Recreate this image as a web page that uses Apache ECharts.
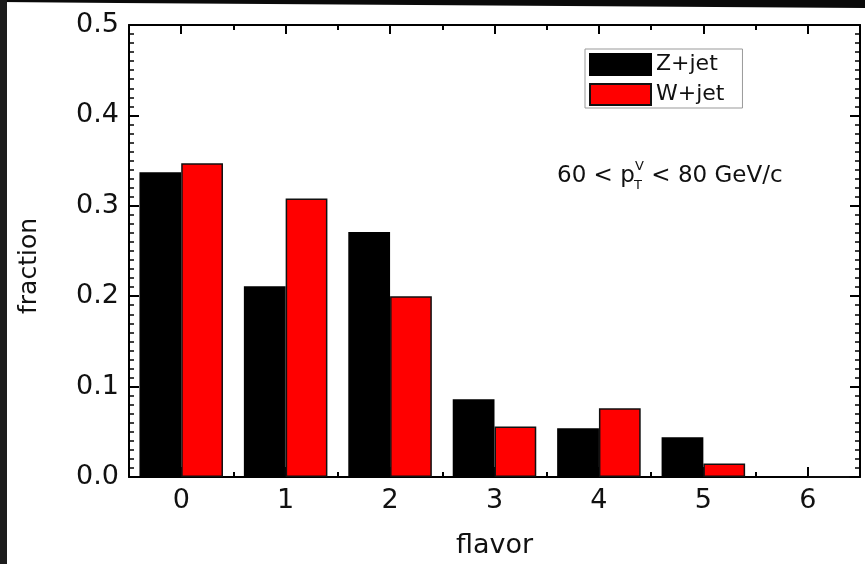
<!DOCTYPE html>
<html><head><meta charset="utf-8">
<script src="https://cdn.jsdelivr.net/npm/echarts@6/dist/echarts.min.js"></script>
<style>html,body{margin:0;padding:0;background:#fff}#c{width:865px;height:564px}</style>
</head><body><div id="c"></div>
<script>
const flavors = ['0', '1', '2', '3', '4', '5', '6'];
const zJet = [0.337, 0.211, 0.271, 0.086, 0.054, 0.044, 0];
const wJet = [0.347, 0.308, 0.200, 0.056, 0.076, 0.015, 0];
const seriesNames = ['Z+jet', 'W+jet'];
const yMin = 0, yMax = 0.5, yStep = 0.1;

const FONT = 'DejaVu Sans';
const AX = { color: '#000', width: 2 };

function catAxis(pos, major, showLine, showLabel) {
  return {
    type: 'category', data: flavors, position: pos, boundaryGap: true,
    axisLine: { show: showLine, onZero: false, lineStyle: AX },
    axisTick: { show: true, inside: true, alignWithLabel: major, length: major ? (pos === 'top' ? 9 : 10) : 5,
                lineStyle: { color: '#000', width: 2 } },
    axisLabel: { show: showLabel, fontFamily: FONT, fontSize: 27, color: '#111', margin: 10 },
    splitLine: { show: false }
  };
}
function valAxis(pos, showLabel) {
  return {
    type: 'value', position: pos, min: yMin, max: yMax, interval: yStep,
    axisLine: { show: true, onZero: false, lineStyle: AX },
    axisTick: { show: true, inside: true, length: 10, lineStyle: { color: '#000', width: 2 } },
    minorTick: { show: true, splitNumber: 10, length: 5, lineStyle: { color: '#000', width: 1.5 } },
    axisLabel: { show: showLabel, fontFamily: FONT, fontSize: 27, color: '#111', margin: 10,
                 formatter: v => v.toFixed(1) },
    splitLine: { show: false }, minorSplitLine: { show: false }
  };
}

const xAxes = [
  Object.assign(catAxis('bottom', true, true, true), {
    name: 'flavor', nameLocation: 'middle', nameGap: 55,
    nameTextStyle: { fontFamily: FONT, fontSize: 27, color: '#111' }
  }),
  catAxis('bottom', false, false, false),
  catAxis('top', true, true, false),
  catAxis('top', false, false, false)
];
const yAxes = [valAxis('left', true), valAxis('right', false)];

const T = (text, x, y, size) => ({ type: 'text', x: x, y: y,
  style: { text: text, font: size + 'px "DejaVu Sans"', fill: '#111', verticalAlign: 'middle' } });

const chart = echarts.init(document.getElementById('c'), null, { renderer: 'canvas' });
chart.setOption({
  animation: false,
  backgroundColor: '#fff',
  grid: { left: 129, right: 5, top: 25, bottom: 86, containLabel: false },
  xAxis: xAxes,
  yAxis: yAxes,
  legend: {
    data: seriesNames, orient: 'vertical', left: 585, top: 49,
    icon: 'rect', itemWidth: 61, itemHeight: 21, itemGap: 7,
    padding: [4, 18, 2, 4], borderColor: '#999', borderWidth: 1,
    textStyle: { fontFamily: FONT, fontSize: 22, color: '#111' }
  },
  series: [
    { name: seriesNames[0], type: 'bar', data: zJet, xAxisIndex: 0, yAxisIndex: 0,
      barWidth: '40%', barGap: '0%',
      itemStyle: { color: '#000', borderColor: '#000', borderWidth: 1.5 } },
    { name: seriesNames[1], type: 'bar', data: wJet, xAxisIndex: 0, yAxisIndex: 0,
      barWidth: '40%', barGap: '0%',
      itemStyle: { color: '#ff0000', borderColor: '#111', borderWidth: 1.5 } }
  ],
  graphic: [
    { type: 'text', x: 29, y: 266, rotation: Math.PI / 2,
      style: { text: 'fraction', font: '25px "DejaVu Sans"', fill: '#111', align: 'center', verticalAlign: 'middle' } },
    T('60 < p', 557, 176, 23),
    T('V', 635, 167, 13),
    T('T', 634, 186, 13),
    T(' < 80 GeV/c', 644, 176, 23),
    { type: 'polygon', z: 100, shape: { points: [[0, 0], [865, 0], [865, 8], [118, 3], [0, 2]] }, style: { fill: '#0a0a0a' } },
    { type: 'rect', z: 100, shape: { x: 0, y: 0, width: 7, height: 564 }, style: { fill: '#1c1c1c' } }
  ]
});
</script></body></html>
